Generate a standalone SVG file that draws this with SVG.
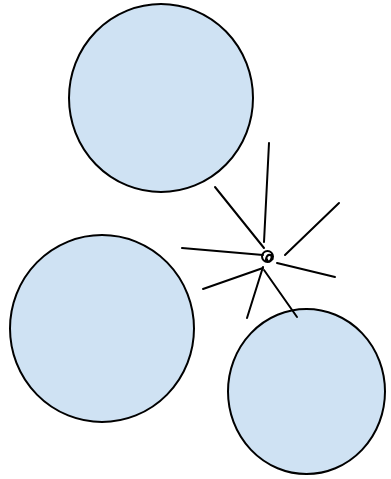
<svg xmlns="http://www.w3.org/2000/svg" width="391" height="479" viewBox="0 0 391 479">
<style>
.blob{fill:#cfe2f3;stroke:#000;stroke-width:2}
.ray{stroke:#000;stroke-width:2;fill:none;stroke-linecap:round}
</style>
<rect width="391" height="479" fill="#fff"/>
<g id="node-top"><ellipse class="blob" cx="161" cy="98" rx="92" ry="94"/></g>
<g id="node-left"><ellipse class="blob" cx="102" cy="328.5" rx="92" ry="93.5"/></g>
<g id="node-bottom-right"><ellipse class="blob" cx="306.5" cy="391.5" rx="78.5" ry="82.5"/></g>
<g id="connectors">
<line class="ray" x1="269" y1="143" x2="264" y2="242"/>
<line class="ray" x1="215" y1="187" x2="264" y2="248"/>
<line class="ray" x1="339" y1="203" x2="285" y2="255"/>
<line class="ray" x1="182" y1="248" x2="263" y2="255"/>
<line class="ray" x1="277" y1="263" x2="335" y2="277"/>
<line class="ray" x1="203" y1="289" x2="263" y2="268"/>
<line class="ray" x1="247" y1="318" x2="263" y2="267"/>
<line class="ray" x1="297" y1="317" x2="264" y2="270"/>
</g>
<g id="node-center">
<circle cx="267.5" cy="256.5" r="5.5" fill="none" stroke="#000" stroke-width="2"/>
<path d="M265.5 261 q1 -7 5 -6 q2.5 2 -0.5 6 q-3 1.5 -3 -2.5 M271 254 l1.5 6" fill="none" stroke="#000" stroke-width="2"/>
</g>
</svg>
